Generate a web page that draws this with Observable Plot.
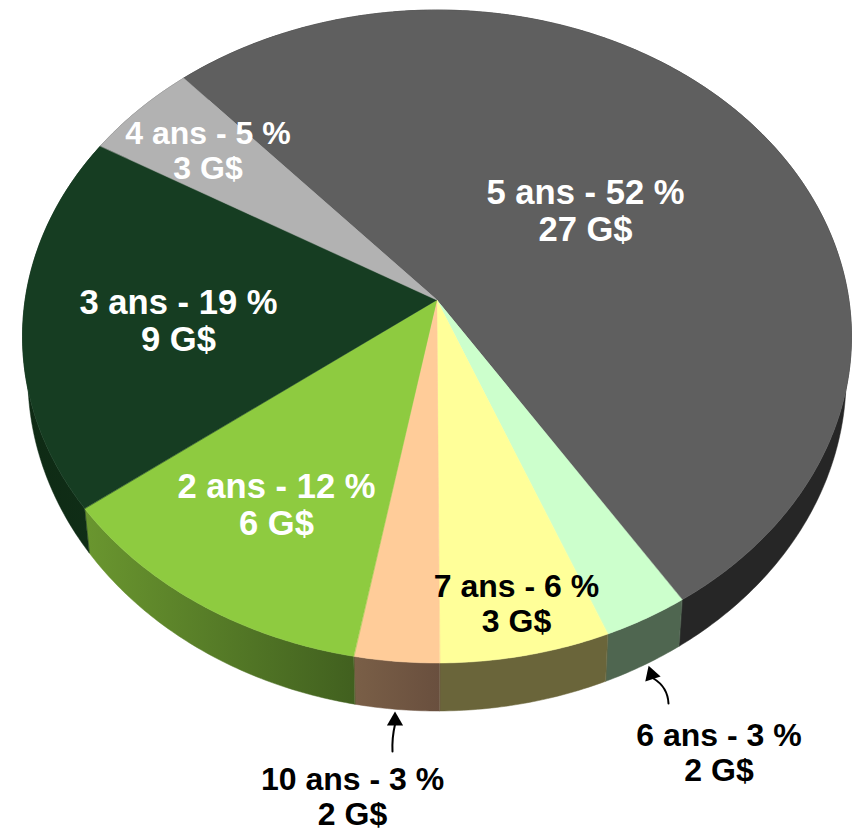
<!DOCTYPE html>
<html>
<head>
<meta charset="utf-8">
<script src="https://cdn.jsdelivr.net/npm/d3@7"></script>
<script src="https://cdn.jsdelivr.net/npm/@observablehq/plot@0.6"></script>
<style>
  html, body { margin: 0; padding: 0; background: #fff; }
  svg { display: block; }
</style>
</head>
<body>
<div id="chart"></div>
<script>
// Shares of the portfolio by term, clockwise from the top-left edge of the largest slice.
const terms = ["5 ans", "6 ans", "7 ans", "10 ans", "2 ans", "3 ans", "4 ans"];
const shares = [52, 3, 6, 3, 12, 19, 5];
const amounts = [27, 2, 3, 2, 6, 9, 3];

// Slice styling. Wall colours run from the left end of each slice to its right end.
const topColors = ["#5f5f5f", "#ccffcc", "#ffff99", "#ffcc99", "#8ecb40", "#163d22", "#b2b2b2"];
const wallLeft = ["#262626", "#4f6650", "#6a653a", "#7a5f47", "#6a962f", "#0e2a14", "#555555"];
const wallRight = ["#262626", "#4f6650", "#6a653a", "#694f3e", "#41601f", "#102e17", "#555555"];
const labelColors = ["#fff", "#000", "#000", "#000", "#fff", "#fff", "#fff"];
const labelSizes = [34.6, 32, 32, 32, 34.6, 34.6, 32];

// Label centres on the page, in pixels.
const labelX = [585, 718.5, 516, 352, 276, 178, 207.5];
const labelY = [210, 752, 603, 796, 504, 320, 150];

// Leader arrows for the two slices labelled outside the disc.
const leaderTen = {x1: 392, y1: 751, x2: 394.5, y2: 724, tipX: 394.5, tipY: 720.4, rotate: 0};
const leaderSix = {x1: 668, y1: 703, x2: 653, y2: 678, tipX: 651, tipY: 674, rotate: -18};

// Perspective of the disc: tilt towards the viewer plus a slight yaw of the slice edges.
const apexX = 437, apexY = 300;
const scaleX = 411.9, scaleY = 322.4, tilt = 0.1118;
const startAngle = -40.8;
const yawAmount = 1 * Math.PI / 180, yawPhase = 150 * Math.PI / 180;
const wallShrinkX = 0.987, wallStretchY = 1.023, wallDrop = 44.5, wallRefY = 510;

function rim(turn) {
  const t0 = (startAngle / 360 + turn) * 2 * Math.PI;
  const t = t0 + yawAmount * Math.cos(t0 - yawPhase);
  const X = Math.sin(t), Y = -Math.cos(t);
  const s = 1 / (1 - tilt * Y);
  return [apexX + scaleX * X * s, apexY + scaleY * Y * s];
}
function floor([x, y]) {
  return [apexX + (x - apexX) * wallShrinkX, y + wallDrop + (wallStretchY - 1) * (y - wallRefY)];
}

// Turn fractions bounding each slice.
const total = d3.sum(shares);
const ends = d3.cumsum(shares).map((v) => v / total);
const starts = [0, ...ends.slice(0, -1)];

const sliceRows = [];
const wallRows = [];
terms.forEach((term, i) => {
  const n = Math.max(12, shares[i] * 6);
  for (let j = 0; j <= n; ++j) {
    const a = rim(starts[i] + (ends[i] - starts[i]) * (j / n));
    const b = floor(a);
    sliceRows.push({term, x2: a[0], y2: a[1], fill: topColors[i]});
    wallRows.push({term, x1: a[0], y1: a[1], x2: b[0], y2: b[1], fill: `url(#wall-${i})`});
  }
});

const labels = terms.map((term, i) => ({
  text: `${term} - ${shares[i]} %\n${amounts[i]} G$`,
  x: labelX[i],
  y: labelY[i],
  size: labelSizes[i],
  color: labelColors[i]
}));

// Horizontal shading of the outer wall, one gradient per slice.
function wallGradients() {
  const defs = d3.create("svg:defs");
  terms.forEach((term, i) => {
    const g = defs.append("linearGradient").attr("id", `wall-${i}`)
      .attr("x1", 0).attr("x2", 1).attr("y1", 0).attr("y2", 0);
    g.append("stop").attr("offset", 0).attr("stop-color", wallLeft[i]);
    g.append("stop").attr("offset", 1).attr("stop-color", wallRight[i]);
  });
  return defs.node();
}

const chart = Plot.plot({
  width: 855,
  height: 831,
  margin: 0,
  x: {domain: [0, 855], range: [0, 855], axis: null},
  y: {domain: [0, 831], range: [0, 831], axis: null},
  color: {type: "identity"},
  marks: [
    wallGradients,
    // Outer wall below the rim.
    Plot.area(wallRows, {
      x1: "x1", y1: "y1", x2: "x2", y2: "y2", z: "term",
      fill: "fill", stroke: "fill", strokeWidth: 0.5
    }),
    // Top face of each slice, fanned out from the apex.
    Plot.area(sliceRows, {
      x1: () => apexX, y1: () => apexY, x2: "x2", y2: "y2", z: "term",
      fill: "fill", stroke: "fill", strokeWidth: 0.5
    }),
    Plot.arrow([leaderTen], {
      x1: "x1", y1: "y1", x2: "x2", y2: "y2", bend: 8,
      stroke: "#000", strokeWidth: 2, headLength: 0
    }),
    Plot.arrow([leaderSix], {
      x1: "x1", y1: "y1", x2: "x2", y2: "y2", bend: -28,
      stroke: "#000", strokeWidth: 2, headLength: 0
    }),
    Plot.dot([leaderTen, leaderSix], {
      x: "tipX", y: "tipY", symbol: "triangle", r: 6, fill: "#000",
      rotate: "rotate"
    }),
    Plot.text(labels, {
      x: "x", y: "y", text: "text", fill: "color", fontSize: "size",
      fontFamily: "Liberation Sans", fontWeight: "bold",
      lineHeight: 1.08, textAnchor: "middle"
    })
  ]
});
document.getElementById("chart").append(chart);
</script>
</body>
</html>
